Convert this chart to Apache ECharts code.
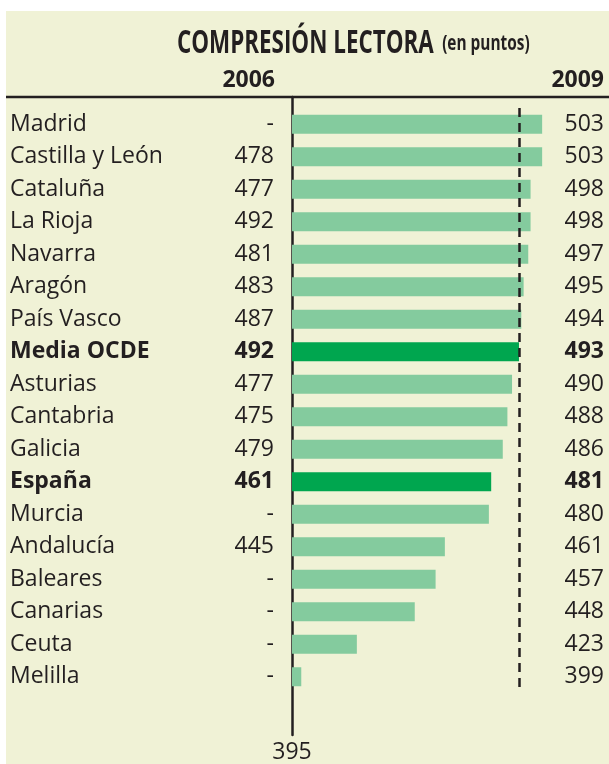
<!DOCTYPE html>
<html>
<head>
<meta charset="utf-8">
<script src="https://cdn.jsdelivr.net/npm/echarts@6/dist/echarts.min.js"></script>
<style>
html, body { margin: 0; padding: 0; background: #fff; }
#chart { width: 609px; height: 764px; }
</style>
</head>
<body>
<div id="chart"></div>
<script>
const regions = ['Madrid', 'Castilla y León', 'Cataluña', 'La Rioja', 'Navarra', 'Aragón', 'País Vasco',
  'Media OCDE', 'Asturias', 'Cantabria', 'Galicia', 'España', 'Murcia', 'Andalucía', 'Baleares',
  'Canarias', 'Ceuta', 'Melilla']
const values2006 = [null, 478, 477, 492, 481, 483, 487, 492, 477, 475, 479, 461, null, 445, null, null, null, null]
const values2009 = [503, 503, 498, 498, 497, 495, 494, 493, 490, 488, 486, 481, 480, 461, 457, 448, 423, 399]
const highlighted = ['Media OCDE', 'España']
const axisMin = 395
const axisMax = 531
const mediaOCDE = 493

const ink = '#231f20'
const font = '"Open Sans", "DejaVu Sans", sans-serif'
const fs = 23

const chart = echarts.init(document.getElementById('chart'))

const isBold = (i) => highlighted.includes(regions[i])

const option = {
  backgroundColor: '#fff',
  animation: false,
  textStyle: { fontFamily: font, color: ink },
  graphic: [
    { type: 'rect', z: -10, shape: { x: 6, y: 11, width: 603, height: 753 }, style: { fill: '#f0f2d6' } },
    { type: 'line', shape: { x1: 6, y1: 97, x2: 609, y2: 97 }, style: { stroke: ink, lineWidth: 2.5 } },
    // title, squeezed to look like the condensed original face
    {
      type: 'text', x: 177, y: 60, scaleX: 0.7,
      style: {
        text: '{a|COMPRESIÓN LECTORA}{b|(en puntos)}',
        verticalAlign: 'bottom',
        rich: {
          a: { fontFamily: font, fontWeight: 'bold', fontSize: 32, fill: ink },
          b: { fontFamily: font, fontWeight: 'bold', fontSize: 22, fill: ink, padding: [0, 0, 0, 12] }
        }
      }
    },
    { type: 'text', x: 275, y: 80, style: { text: '2006', fontFamily: font, fontWeight: 'bold', fontSize: fs, fill: ink, align: 'right', verticalAlign: 'middle' } },
    { type: 'text', x: 604, y: 80, style: { text: '2009', fontFamily: font, fontWeight: 'bold', fontSize: fs, fill: ink, align: 'right', verticalAlign: 'middle' } }
  ],
  grid: [
    { left: 292, top: 108, width: 315, height: 585 },
    { left: 292, top: 97, width: 315, height: 638 }
  ],
  xAxis: [
    { gridIndex: 0, type: 'value', min: axisMin, max: axisMax, show: false },
    {
      gridIndex: 1, type: 'value', min: axisMin, max: axisMax, interval: axisMax - axisMin,
      axisLine: { show: false }, axisTick: { show: false }, splitLine: { show: false },
      axisLabel: { showMaxLabel: false, color: ink, fontSize: fs, margin: 6 }
    }
  ],
  yAxis: [
    {
      gridIndex: 0, type: 'category', data: regions, inverse: true,
      axisLine: { show: false }, axisTick: { show: false },
      axisLabel: {
        margin: 18,
        formatter: (value, i) => {
          const v = values2006[i] == null ? '-' : values2006[i]
          return isBold(i) ? `{nb|${value}}{vb|${v}}` : `{n|${value}}{v|${v}}`
        },
        rich: {
          n: { width: 200, align: 'left', fontSize: fs, color: ink },
          v: { width: 64, align: 'right', fontSize: fs, color: ink },
          nb: { width: 200, align: 'left', fontSize: fs, fontWeight: 'bold', color: ink },
          vb: { width: 64, align: 'right', fontSize: fs, fontWeight: 'bold', color: ink }
        }
      }
    },
    {
      gridIndex: 0, type: 'category', data: regions, inverse: true, position: 'right',
      axisLine: { show: false }, axisTick: { show: false },
      axisLabel: {
        inside: true,
        margin: 3,
        formatter: (value, i) => isBold(i) ? `{b|${values2009[i]}}` : `{r|${values2009[i]}}`,
        rich: {
          r: { fontSize: fs, color: ink },
          b: { fontSize: fs, fontWeight: 'bold', color: ink }
        }
      }
    },
    {
      gridIndex: 1, type: 'value', min: 0, max: 1,
      axisLine: { show: true, lineStyle: { color: ink, width: 2.5 } },
      axisTick: { show: false }, axisLabel: { show: false }, splitLine: { show: false }
    }
  ],
  series: [
    {
      type: 'bar',
      xAxisIndex: 0,
      yAxisIndex: 0,
      barWidth: 19,
      data: values2009.map((v, i) => ({
        value: v,
        itemStyle: { color: isBold(i) ? '#00a64f' : '#84cb9e' }
      })),
      markLine: {
        silent: true,
        symbol: 'none',
        label: { show: false },
        lineStyle: { color: ink, type: [9, 6], width: 2.5 },
        data: [{ xAxis: mediaOCDE }]
      }
    }
  ]
}

chart.setOption(option)
</script>
</body>
</html>
